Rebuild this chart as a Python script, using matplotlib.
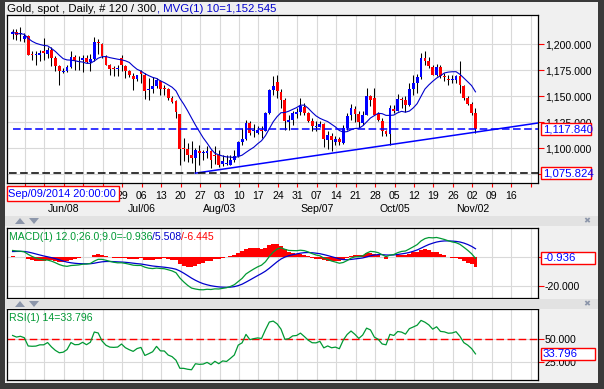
import numpy as np
import pandas as pd
import matplotlib.pyplot as plt
import matplotlib.transforms as mtransforms
from matplotlib.patches import Rectangle, Polygon

plt.rcParams['font.family'] = ['Liberation Sans', 'DejaVu Sans']
plt.rcParams['lines.scale_dashes'] = False

# daily gold spot bars, oldest first (120 bars)
opens = [1210.0, 1211.5, 1209.5, 1205.1, 1208.0, 1189.4, 1189.0, 1189.7, 1193.0, 1190.7,
         1194.2, 1186.5, 1179.2, 1172.8, 1173.7, 1178.2, 1187.2, 1183.0, 1184.9, 1186.5,
         1183.0, 1185.9, 1201.9, 1200.0, 1187.2, 1180.1, 1176.3, 1175.8, 1186.5, 1178.5,
         1174.4, 1169.6, 1166.7, 1174.4, 1170.5, 1155.5, 1157.1, 1159.3, 1164.1, 1157.1,
         1157.1, 1148.1, 1144.8, 1132.7, 1099.4, 1099.0, 1093.6, 1090.4, 1097.4, 1095.2,
         1095.5, 1096.8, 1092.9, 1093.6, 1084.9, 1085.0, 1084.0, 1088.8, 1092.0, 1105.8,
         1109.0, 1124.0, 1116.0, 1114.4, 1117.0, 1116.7, 1133.7, 1156.1, 1163.1, 1153.8,
         1146.5, 1125.0, 1127.2, 1133.0, 1134.6, 1139.5, 1133.7, 1125.6, 1120.2, 1120.5,
         1123.1, 1108.0, 1111.2, 1105.5, 1109.0, 1104.8, 1119.2, 1131.4, 1137.8, 1132.7,
         1124.0, 1132.1, 1149.7, 1148.1, 1132.7, 1126.3, 1116.0, 1113.5, 1137.8, 1135.9,
         1147.4, 1146.5, 1141.7, 1156.7, 1162.5, 1168.0, 1186.5, 1183.3, 1177.9, 1170.5,
         1177.9, 1168.3, 1166.7, 1165.7, 1165.1, 1168.9, 1159.9, 1148.1, 1142.3, 1133.7]
highs = [1214.4, 1214.4, 1216.0, 1210.6, 1208.3, 1193.0, 1193.0, 1193.9, 1205.8, 1196.8,
         1196.8, 1188.1, 1180.1, 1176.9, 1180.1, 1193.0, 1189.7, 1188.1, 1189.7, 1189.1,
         1190.4, 1206.4, 1205.1, 1201.0, 1189.7, 1180.8, 1178.5, 1179.5, 1189.7, 1180.1,
         1175.3, 1172.1, 1170.5, 1175.3, 1172.1, 1167.3, 1168.0, 1167.3, 1165.7, 1160.9,
         1157.7, 1149.7, 1146.5, 1132.7, 1109.6, 1104.8, 1106.4, 1100.0, 1103.2, 1098.4,
         1101.6, 1098.4, 1102.2, 1098.4, 1093.6, 1093.6, 1092.9, 1098.4, 1106.4, 1119.2,
         1127.2, 1126.3, 1123.1, 1120.8, 1120.8, 1134.3, 1157.1, 1168.9, 1169.9, 1157.1,
         1148.1, 1132.1, 1135.3, 1138.5, 1148.1, 1143.3, 1134.6, 1128.9, 1126.3, 1125.6,
         1124.0, 1116.0, 1114.4, 1111.2, 1110.3, 1122.4, 1133.7, 1142.3, 1140.1, 1135.3,
         1135.3, 1157.7, 1151.3, 1157.7, 1134.6, 1128.9, 1117.6, 1141.0, 1141.7, 1151.9,
         1148.7, 1149.7, 1162.5, 1170.5, 1171.2, 1191.3, 1193.0, 1187.2, 1180.1, 1180.8,
         1180.1, 1172.1, 1170.5, 1170.5, 1169.9, 1184.0, 1160.9, 1149.7, 1144.2, 1138.5]
lows = [1204.8, 1204.2, 1202.6, 1201.9, 1189.1, 1184.3, 1180.1, 1184.0, 1184.3, 1186.5,
        1178.5, 1173.7, 1160.9, 1172.1, 1173.1, 1176.9, 1175.3, 1175.3, 1173.1, 1181.7,
        1173.7, 1184.0, 1190.4, 1186.5, 1179.5, 1169.9, 1168.9, 1168.9, 1173.7, 1167.3,
        1168.0, 1156.1, 1164.1, 1162.5, 1147.4, 1146.5, 1152.9, 1157.7, 1150.6, 1151.3,
        1146.5, 1143.3, 1128.9, 1084.0, 1087.2, 1086.5, 1085.6, 1075.824, 1084.0, 1088.8,
        1090.4, 1080.8, 1084.6, 1081.4, 1082.4, 1084.0, 1083.3, 1086.5, 1091.0, 1103.2,
        1108.0, 1112.8, 1110.3, 1113.5, 1109.6, 1116.0, 1132.7, 1151.3, 1148.1, 1138.5,
        1117.6, 1117.6, 1121.8, 1128.9, 1132.1, 1132.1, 1125.0, 1116.0, 1116.0, 1120.0,
        1100.6, 1099.4, 1097.4, 1102.6, 1102.6, 1103.9, 1117.6, 1127.2, 1124.7, 1119.2,
        1121.8, 1131.4, 1140.1, 1131.4, 1125.6, 1111.2, 1111.2, 1103.2, 1133.7, 1135.3,
        1138.5, 1134.6, 1140.1, 1151.3, 1152.9, 1166.7, 1180.1, 1176.9, 1169.9, 1168.9,
        1167.3, 1164.1, 1160.9, 1162.5, 1162.5, 1152.9, 1146.5, 1141.0, 1132.1, 1114.4]
closes = [1211.5, 1208.3, 1210.0, 1207.4, 1189.7, 1189.0, 1189.3, 1191.3, 1191.3, 1194.6,
          1186.5, 1179.2, 1173.7, 1174.4, 1177.6, 1187.2, 1183.3, 1183.6, 1186.5, 1182.7,
          1185.9, 1201.9, 1200.6, 1188.1, 1180.1, 1176.3, 1175.8, 1176.2, 1180.1, 1173.7,
          1169.9, 1166.7, 1169.9, 1171.2, 1155.1, 1157.1, 1159.3, 1165.7, 1157.1, 1156.8,
          1148.1, 1144.2, 1134.6, 1099.4, 1099.0, 1093.6, 1090.4, 1097.8, 1095.2, 1095.5,
          1097.4, 1088.8, 1092.6, 1084.0, 1087.2, 1085.4, 1088.8, 1092.6, 1105.5, 1109.0,
          1124.0, 1114.4, 1116.3, 1117.6, 1116.7, 1133.7, 1156.1, 1159.3, 1155.1, 1146.5,
          1125.6, 1127.2, 1133.7, 1134.6, 1140.1, 1133.7, 1126.3, 1120.8, 1120.5, 1123.1,
          1109.0, 1112.2, 1108.0, 1109.0, 1105.5, 1119.2, 1130.5, 1138.5, 1132.7, 1125.0,
          1132.1, 1149.7, 1146.5, 1132.1, 1127.2, 1116.0, 1113.8, 1138.5, 1135.9, 1147.1,
          1145.8, 1141.7, 1157.1, 1162.5, 1168.3, 1186.5, 1183.3, 1178.5, 1170.5, 1177.9,
          1168.9, 1168.0, 1165.4, 1166.0, 1168.9, 1160.9, 1148.1, 1142.3, 1133.7, 1117.84]

# indicator state carried in from before the first visible bar
ema12_seed, ema26_seed, signal_seed = 1208.0, 1203.4, 3.6
rsi_gain_seed, rsi_loss_seed = 4.2, 3.6

# values printed in the reference legends / boxes
ma_label = 1152.545
macd_label, signal_label, hist_label = -0.936, 5.508, -6.445
rsi_label = 33.796

price_ticks = [1075, 1100, 1125, 1150, 1175, 1200]
week_labels = ['', '', '', '', '', '29', '06', '13', '20', '27', '03', '10', '17',
               '24', '31', '07', '14', '21', '28', '05', '12', '19', '26', '02', '09', '16', '']
month_labels = ['Jun/08', 'Jul/06', 'Aug/03', 'Sep/07', 'Oct/05', 'Nov/02']
month_weeks = [2, 6, 10, 15, 19, 23]
trend_bars = [47, 97]          # trend line drawn through these two lows
cursor_text = 'Sep/09/2014 20:00:00'

W, H = 604, 389
BLUE, RED, GREEN = '#0000FF', '#FF0000', '#009933'
GRID = '#D9D9D9'
BG = '#F0F0F0'

n = len(closes)
x = np.arange(n)
o, h, l, c = map(np.array, (opens, highs, lows, closes))


def ema(values, span, seed):
    a = 2 / (span + 1)
    out, prev = [], seed
    for v in values:
        prev = a * v + (1 - a) * prev
        out.append(prev)
    return np.array(out)


ma10 = pd.Series(c).rolling(10, min_periods=1).mean()
macd = ema(c, 12, ema12_seed) - ema(c, 26, ema26_seed)
signal = ema(macd, 9, signal_seed)
hist = macd - signal

gain, loss, rsi = rsi_gain_seed, rsi_loss_seed, []
prev = c[0]
for v in c:
    dlt = v - prev
    gain = (13 * gain + max(dlt, 0)) / 14
    loss = (13 * loss + max(-dlt, 0)) / 14
    rsi.append(100 - 100 / (1 + gain / loss))
    prev = v
rsi = np.array(rsi)

fig = plt.figure(figsize=(W / 100, H / 100), dpi=100, facecolor=BG)


def panel(x0, y0, x1, y1):
    ax = fig.add_axes([x0 / W, 1 - y1 / H, (x1 - x0) / W, (y1 - y0) / H])
    ax.set_facecolor('white')
    for sp in ax.spines.values():
        sp.set_color('black')
        sp.set_linewidth(0.9)
    ax.set_xlim(-1.44, 135.07)
    ax.yaxis.tick_right()
    ax.tick_params(axis='y', colors=RED, labelcolor='black', length=4, width=0.8,
                   pad=1, labelsize=7.6)
    ax.tick_params(axis='x', colors=RED, labelcolor='black', length=3, width=0.8,
                   pad=2.5, labelsize=7.6)
    return ax


week_pos = [3.2 + 5 * k for k in range(len(week_labels))]

# ---------------- price panel
ax = panel(7, 15, 538, 183)
ax.set_ylim(1066.35, 1227.9)
ax.set_yticks(price_ticks)
ax.set_yticklabels([f'{v:,.3f}' if v > 1075 else '' for v in price_ticks])
ax.set_xticks(week_pos)
ax.set_xticklabels(week_labels)
ax.grid(True, color=GRID, linewidth=0.8, zorder=0)
ax.set_axisbelow(True)

ax.vlines(x, l, h, color='black', linewidth=0.75, zorder=2)
body_col = [BLUE if cc >= oo else RED for oo, cc in zip(o, c)]
body_lo = np.minimum(o, c)
body_h = np.maximum(np.abs(c - o), 1.0)
ax.bar(x, body_h, bottom=body_lo, width=0.72, color=body_col, linewidth=0, zorder=3)
ax.plot(x, ma10, color='#0000CC', linewidth=0.8, zorder=4)

b0, b1 = trend_bars
slope = (lows[b1] - lows[b0]) / (b1 - b0)
tx = np.array([b0, 136])
ax.plot(tx, lows[b0] + slope * (tx - b0), color=BLUE, linewidth=1.1, zorder=4)
ax.plot([0, 136], [c[-1], c[-1]], color=BLUE, linewidth=1.1, dashes=(5.5, 2.5), zorder=4)
ax.plot([-0.9, 136], [min(lows)] * 2, color='black', linewidth=1.1, dashes=(5.5, 2.5), zorder=4)

for lab, k in zip(month_labels, month_weeks):
    ax.text(week_pos[k], 1 - 209 / H, lab, fontsize=7.6, ha='center', va='center',
            transform=mtransforms.blended_transform_factory(ax.transData, fig.transFigure))

# ---------------- MACD panel
ax2 = panel(7, 228, 538, 298)
ax2.set_ylim(-28.6, 20.2)
ax2.set_yticks([-20, 0])
ax2.set_yticklabels(['-20.000', ''])
ax2.set_xticks(week_pos)
ax2.tick_params(axis='x', length=0, labelbottom=False)
ax2.grid(True, color=GRID, linewidth=0.8, zorder=0)
ax2.set_axisbelow(True)
ax2.bar(x, hist, width=1.0, color=RED, linewidth=0, zorder=2)
ax2.plot(x, signal, color='#0000CC', linewidth=0.9, zorder=3)
ax2.plot(x, macd, color=GREEN, linewidth=0.9, zorder=4)

# ---------------- RSI panel
ax3 = panel(7, 309, 538, 380)
ax3.set_ylim(4.8, 83)
ax3.set_yticks([25, 50])
ax3.set_yticklabels(['25.000', '50.000'])
ax3.set_xticks(week_pos)
ax3.tick_params(axis='x', length=0, labelbottom=False)
ax3.grid(True, color=GRID, linewidth=0.8, zorder=0)
ax3.set_axisbelow(True)
ax3.axhline(50, color=RED, linewidth=1.0, dashes=(5.5, 2.5), zorder=2)
ax3.plot(x, rsi, color=GREEN, linewidth=0.9, zorder=3)

fig.canvas.draw()


# ---------------- value boxes on the right axis
def value_box(a, val, text, x0=541, x1=591, hgt=12):
    ypx = a.transData.transform((0, val))[1]
    y0 = ypx - hgt / 2
    fig.patches.append(Rectangle((x0 / W, y0 / H), (x1 - x0) / W, hgt / H,
                                 transform=fig.transFigure, facecolor='white',
                                 edgecolor=RED, linewidth=1.0, zorder=5))
    fig.text((x0 + 2) / W, ypx / H, text, color=BLUE, fontsize=8.2, ha='left',
             va='center', zorder=6)


value_box(ax, c[-1], f'{c[-1]:,.3f}')
value_box(ax, min(lows), f'{min(lows):,.3f}')
value_box(ax2, macd_label, f'{macd_label:.3f}', x1=595)
value_box(ax3, rsi_label, f'{rsi_label:.3f}', x1=595)

# ---------------- header texts
t1 = fig.text(7.5 / W, 1 - 9 / H, 'Gold, spot , Daily, # 120 / 300', fontsize=8.2,
              va='center', ha='left')
ax.annotate(f', MVG(1) 10={ma_label:,.3f}', xy=(1, 0.5), xycoords=t1,
            va='center', ha='left', color='#0000CC', fontsize=8.2)

m1 = ax2.text(0.003, 0.94, f'MACD(1) 12.0;26.0;9.0={macd_label:.3f}',
              transform=ax2.transAxes, color=GREEN, fontsize=7.6, va='top', zorder=6)
m2 = ax2.annotate(f'/{signal_label:.3f}', xy=(1, 0.5), xycoords=m1, va='center',
                  color='#0000CC', fontsize=7.6, zorder=6)
ax2.annotate(f'/{hist_label:.3f}', xy=(1, 0.5), xycoords=m2, va='center',
             color=RED, fontsize=7.6, zorder=6)
ax3.text(0.003, 0.94, f'RSI(1) 14={rsi_label:.3f}', transform=ax3.transAxes,
         color=GREEN, fontsize=7.6, va='top', zorder=6)

# cursor date box
fig.patches.append(Rectangle((7 / W, 1 - 201.5 / H), 112 / W, 15.5 / H,
                             transform=fig.transFigure, facecolor='white',
                             edgecolor=RED, linewidth=1.0, zorder=5))
fig.text(8.5 / W, 1 - 194 / H, cursor_text, color=BLUE, fontsize=7.9, va='center', zorder=6)

# separator strips with the small arrow buttons
for ys in (216, 299):
    fig.patches.append(Rectangle((5 / W, 1 - (ys + 10) / H), 593 / W, 10 / H,
                                 transform=fig.transFigure, facecolor='#E2E2E2',
                                 edgecolor='none', zorder=1))
    yc = ys + 5
    for cx, upward in ((20, True), (34, False)):
        if upward:
            pts = [(cx - 5, yc + 3), (cx + 5, yc + 3), (cx, yc - 3)]
        else:
            pts = [(cx - 5, yc - 3), (cx + 5, yc - 3), (cx, yc + 3)]
        fig.patches.append(Polygon([(px / W, 1 - py / H) for px, py in pts],
                                   transform=fig.transFigure, facecolor='#8C96AA',
                                   edgecolor='none', zorder=2))
    fig.text(587 / W, 1 - yc / H, '\u2716', color='#8C96AA', fontsize=6,
             ha='center', va='center', family='DejaVu Sans')

# outer dark frame
for rx, ry, rw, rh in ((0, 0, 5, H), (598, 0, 6, H), (0, 0, W, 2), (0, 383, W, 6)):
    fig.patches.append(Rectangle((rx / W, 1 - (ry + rh) / H), rw / W, rh / H,
                                 transform=fig.transFigure, facecolor='#3A3A3A',
                                 edgecolor='none', zorder=7))

fig.savefig('out.png', dpi=100, facecolor=BG)
